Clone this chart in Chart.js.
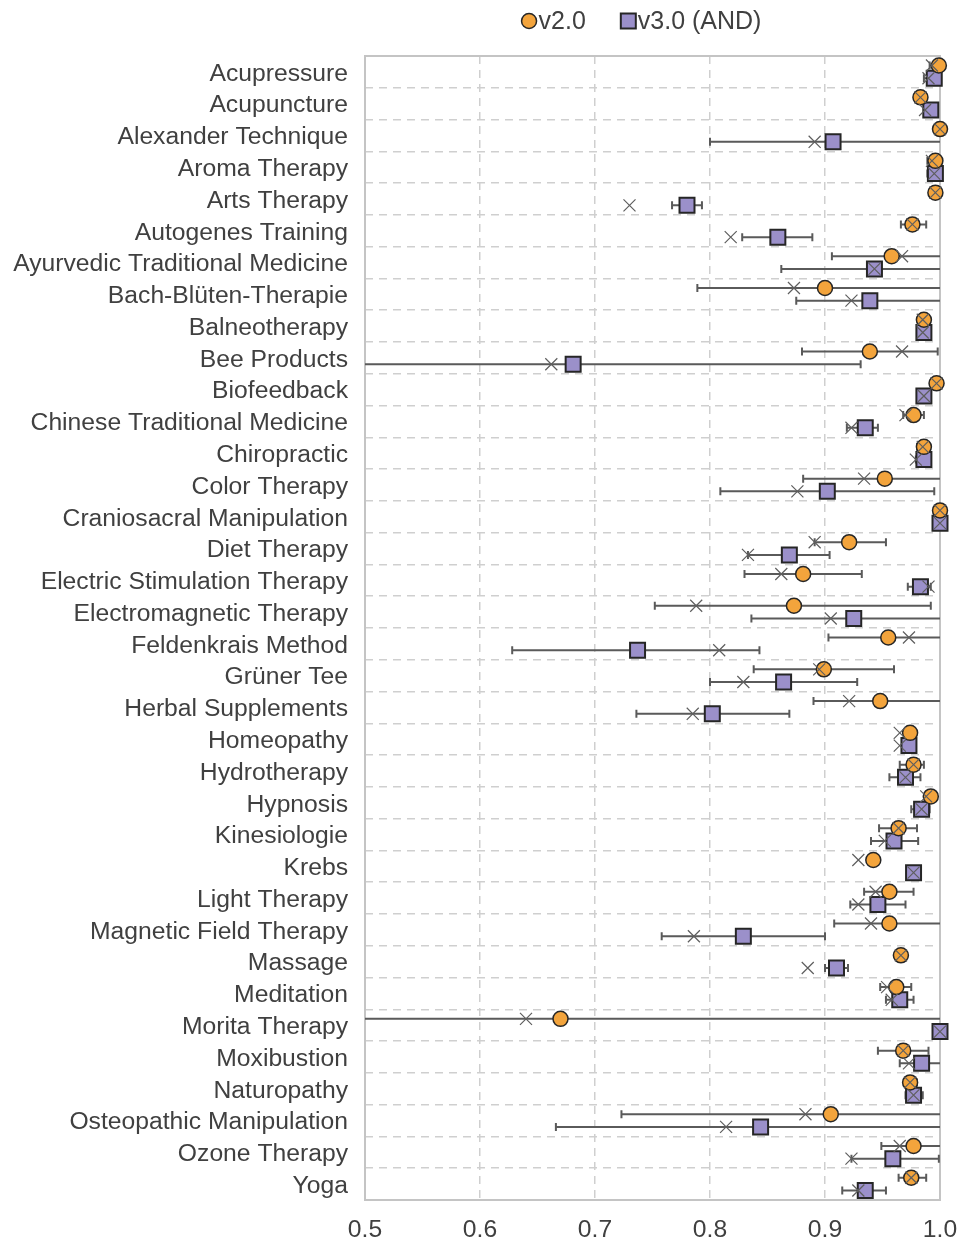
<!DOCTYPE html>
<html>
<head>
<meta charset="utf-8">
<title>v2.0 vs v3.0 (AND)</title>
<style>
  html, body { margin: 0; padding: 0; background: #ffffff; }
  #wrap { width: 973px; height: 1241px; position: relative; }
  canvas { display: block; }
</style>
<script src="https://cdn.jsdelivr.net/npm/chart.js@4.4.1/dist/chart.umd.min.js"></script>
</head>
<body>
<div id="wrap"><canvas id="chart" width="973" height="1241"></canvas></div>
<script>
// ---- data -------------------------------------------------------------
const categories = [
  'Acupressure', 'Acupuncture', 'Alexander Technique', 'Aroma Therapy', 'Arts Therapy',
  'Autogenes Training', 'Ayurvedic Traditional Medicine', 'Bach-Blüten-Therapie', 'Balneotherapy',
  'Bee Products', 'Biofeedback', 'Chinese Traditional Medicine', 'Chiropractic', 'Color Therapy',
  'Craniosacral Manipulation', 'Diet Therapy', 'Electric Stimulation Therapy', 'Electromagnetic Therapy',
  'Feldenkrais Method', 'Grüner Tee', 'Herbal Supplements', 'Homeopathy', 'Hydrotherapy', 'Hypnosis',
  'Kinesiologie', 'Krebs', 'Light Therapy', 'Magnetic Field Therapy', 'Massage', 'Meditation',
  'Morita Therapy', 'Moxibustion', 'Naturopathy', 'Osteopathic Manipulation', 'Ozone Therapy', 'Yoga'
];

const seriesNames = ['v2.0', 'v3.0 (AND)'];

const v2Score = [0.999, 0.983, 1.000, 0.996, 0.996, 0.976, 0.958, 0.900, 0.986, 0.939, 0.997, 0.977,
  0.986, 0.952, 1.000, 0.921, 0.881, 0.873, 0.955, 0.899, 0.948, 0.974, 0.977, 0.992, 0.964, 0.942,
  0.956, 0.956, 0.966, 0.962, 0.670, 0.968, 0.974, 0.905, 0.977, 0.975];
const v2Cross = [0.993, 0.983, 1.000, 0.993, 0.996, 0.976, 0.967, 0.873, 0.985, 0.967, 0.997, 0.970,
  0.985, 0.934, 1.000, 0.891, 0.862, 0.788, 0.973, 0.895, 0.921, 0.965, 0.977, 0.988, 0.964, 0.929,
  0.944, 0.940, 0.966, 0.954, 0.640, 0.968, 0.974, 0.883, 0.965, 0.975];
const v2Low = [0.991, null, null, 0.989, null, 0.966, 0.906, 0.789, 0.981, 0.880, null, 0.968,
  0.980, 0.881, null, 0.891, 0.830, 0.752, 0.903, 0.838, 0.890, null, 0.965, null, 0.947, null,
  0.934, 0.908, null, 0.948, 0.45, 0.946, 0.970, 0.723, 0.949, 0.964];
const v2High = [1.01, null, null, 1.01, null, 0.988, 1.05, 1.05, 0.990, 0.998, null, 0.986,
  0.991, 1.05, null, 0.953, 0.932, 0.992, 1.05, 0.960, 1.05, null, 0.986, null, 0.980, null,
  0.977, 1.05, null, 0.975, 1.05, 0.990, 0.980, 1.05, 1.05, 0.988];

const v3Score = [0.995, 0.992, 0.907, 0.996, 0.780, 0.859, 0.943, 0.939, 0.986, 0.681, 0.986, 0.935,
  0.986, 0.902, 1.000, 0.869, 0.983, 0.925, 0.737, 0.864, 0.802, 0.973, 0.970, 0.984, 0.960, 0.977,
  0.946, 0.829, 0.910, 0.965, 1.000, 0.984, 0.977, 0.844, 0.959, 0.935];
const v3Cross = [0.990, 0.987, 0.891, 0.995, 0.730, 0.818, 0.943, 0.923, 0.985, 0.662, 0.986, 0.923,
  0.979, 0.876, 1.000, 0.833, 0.990, 0.905, 0.808, 0.829, 0.785, 0.965, 0.970, 0.984, 0.952, 0.977,
  0.929, 0.786, 0.885, 0.958, 1.000, 0.973, 0.977, 0.814, 0.923, 0.929];
const v3Low = [0.986, null, 0.800, 0.989, 0.767, 0.828, 0.862, 0.875, 0.981, 0.45, null, 0.919,
  0.979, 0.809, null, 0.833, 0.972, 0.836, 0.628, 0.800, 0.736, null, 0.956, 0.975, 0.940, null,
  0.922, 0.758, 0.900, 0.953, null, 0.965, 0.970, 0.666, 0.923, 0.915];
const v3High = [1.01, null, 1.05, 1.01, 0.793, 0.889, 1.05, 1.05, 0.990, 0.931, null, 0.946,
  0.992, 0.995, null, 0.904, 0.992, 1.05, 0.843, 0.928, 0.869, null, 0.983, 0.991, 0.981, null,
  0.970, 0.900, 0.920, 0.977, null, 1.05, 0.985, 1.05, 0.999, 0.953];

const xTicks = [0.5, 0.6, 0.7, 0.8, 0.9, 1.0];

// ---- styling ------------------------------------------------------------
const ORANGE = '#F3A43C';
const PURPLE = '#9B90CA';
const EDGE = '#262626';
const CROSS = '#5e5e5e';
const WHISKER = '#5a5a5a';
const GRID = '#cfcfcf';
const FRAME = '#c4c4c4';
const TEXT = '#404040';
const FONT_FAMILY = '"Liberation Sans", Arial, sans-serif';
const FONT_SIZE = 24.7;
const ROW_SHIFT = 0.2;   // v2.0 sits above the category centre, v3.0 below

const rowPoints = (values, shift) => values.map((v, i) => ({ x: v, y: i + shift }));

// whiskers for each series, drawn under the markers
const whiskerSets = [
  { low: v2Low, high: v2High, shift: -ROW_SHIFT },
  { low: v3Low, high: v3High, shift: ROW_SHIFT }
];

const framePlugin = {
  id: 'frameAndWhiskers',
  beforeDatasetsDraw(chart) {
    const { ctx, chartArea: a, scales } = chart;
    const xs = scales.x, ys = scales.y;
    ctx.save();
    ctx.strokeStyle = FRAME;
    ctx.lineWidth = 2;
    ctx.strokeRect(a.left, a.top, a.right - a.left, a.bottom - a.top);

    ctx.beginPath();
    ctx.rect(a.left, a.top, a.right - a.left, a.bottom - a.top);
    ctx.clip();
    ctx.strokeStyle = WHISKER;
    ctx.lineWidth = 2;
    const cap = 4;
    whiskerSets.forEach(set => {
      set.low.forEach((lo, i) => {
        const hi = set.high[i];
        if (lo == null || hi == null) return;
        const y = ys.getPixelForValue(i + set.shift);
        const x1 = xs.getPixelForValue(lo);
        const x2 = xs.getPixelForValue(hi);
        ctx.beginPath();
        ctx.moveTo(x1, y); ctx.lineTo(x2, y);
        ctx.moveTo(x1, y - cap); ctx.lineTo(x1, y + cap);
        ctx.moveTo(x2, y - cap); ctx.lineTo(x2, y + cap);
        ctx.stroke();
      });
    });
    ctx.restore();
  }
};

const legendPlugin = {
  id: 'seriesLegend',
  afterDraw(chart) {
    const ctx = chart.ctx;
    const entries = [
      { name: seriesNames[0], shape: 'circle', fill: ORANGE },
      { name: seriesNames[1], shape: 'square', fill: PURPLE }
    ];
    ctx.save();
    ctx.font = '25px ' + FONT_FAMILY;
    ctx.textBaseline = 'middle';
    const marker = 15, textGap = 2, itemGap = 35;
    const widths = entries.map(e => marker + textGap + ctx.measureText(e.name).width);
    const total = widths.reduce((s, w) => s + w, 0) + itemGap * (entries.length - 1);
    const a = chart.chartArea;
    let x = (a.left + a.right) / 2 - 11 - total / 2;
    const y = 21;
    entries.forEach((e, k) => {
      ctx.fillStyle = e.fill;
      ctx.strokeStyle = EDGE;
      ctx.beginPath();
      if (e.shape === 'circle') {
        ctx.lineWidth = 1.5;
        ctx.arc(x + marker / 2, y, marker / 2, 0, Math.PI * 2);
      } else {
        ctx.lineWidth = 2;
        ctx.rect(x, y - marker / 2, marker, marker);
      }
      ctx.fill();
      ctx.stroke();
      ctx.fillStyle = TEXT;
      ctx.textAlign = 'left';
      ctx.fillText(e.name, x + marker + textGap, y + 1);
      x += widths[k] + itemGap;
    });
    ctx.restore();
  }
};

const tickFont = { family: FONT_FAMILY, size: FONT_SIZE };

new Chart(document.getElementById('chart'), {
  type: 'scatter',
  data: {
    datasets: [
      {
        label: seriesNames[0] + ' cross',
        data: rowPoints(v2Cross, -ROW_SHIFT),
        pointStyle: 'crossRot', pointRadius: 8.5, pointHoverRadius: 8.5,
        borderColor: CROSS, borderWidth: 1.2, backgroundColor: CROSS, clip: false
      },
      {
        label: seriesNames[1] + ' cross',
        data: rowPoints(v3Cross, ROW_SHIFT),
        pointStyle: 'crossRot', pointRadius: 8.5, pointHoverRadius: 8.5,
        borderColor: CROSS, borderWidth: 1.2, backgroundColor: CROSS, clip: false
      },
      {
        label: seriesNames[0],
        data: rowPoints(v2Score, -ROW_SHIFT),
        pointStyle: 'circle', pointRadius: 7.5, pointHoverRadius: 7.5,
        backgroundColor: ORANGE, borderColor: EDGE, borderWidth: 1.5, clip: false
      },
      {
        label: seriesNames[1],
        data: rowPoints(v3Score, ROW_SHIFT),
        pointStyle: 'rect', pointRadius: 10.6, pointHoverRadius: 10.6,
        backgroundColor: PURPLE, borderColor: EDGE, borderWidth: 2, clip: false
      }
    ]
  },
  options: {
    responsive: false,
    animation: false,
    devicePixelRatio: 1,
    events: [],
    layout: { padding: { top: 56, right: 33, left: 0, bottom: 0 } },
    plugins: {
      legend: { display: false },
      tooltip: { enabled: false }
    },
    scales: {
      x: {
        type: 'linear',
        min: 0.5, max: 1.0,
        afterBuildTicks: s => { s.ticks = xTicks.map(v => ({ value: v })); },
        afterFit: s => { s.height = 41; },
        ticks: {
          autoSkip: false, maxRotation: 0, padding: 15,
          color: TEXT, font: tickFont,
          callback: v => Number(v).toFixed(1)
        },
        grid: { color: GRID, lineWidth: 1.5, drawTicks: false },
        border: { display: false, dash: [8, 6] }
      },
      y: {
        type: 'linear',
        position: 'left',
        reverse: true,
        min: -0.5, max: categories.length - 0.5,
        afterBuildTicks: s => { s.ticks = categories.map((_, i) => ({ value: i })); },
        afterFit: s => { s.width = 365; },
        ticks: {
          autoSkip: false, padding: 17, labelOffset: 2,
          color: TEXT, font: tickFont,
          callback: v => categories[v]
        },
        grid: { display: false, drawTicks: false },
        border: { display: false }
      },
      rows: {
        type: 'linear',
        position: 'right',
        reverse: true,
        min: -0.5, max: categories.length - 0.5,
        afterBuildTicks: s => { s.ticks = categories.slice(1).map((_, i) => ({ value: i + 0.5 })); },
        afterFit: s => { s.width = 0; },
        ticks: { display: false },
        grid: { color: GRID, lineWidth: 1.5, drawTicks: false },
        border: { display: false, dash: [8, 6] }
      }
    }
  },
  plugins: [framePlugin, legendPlugin]
});
</script>
</body>
</html>
